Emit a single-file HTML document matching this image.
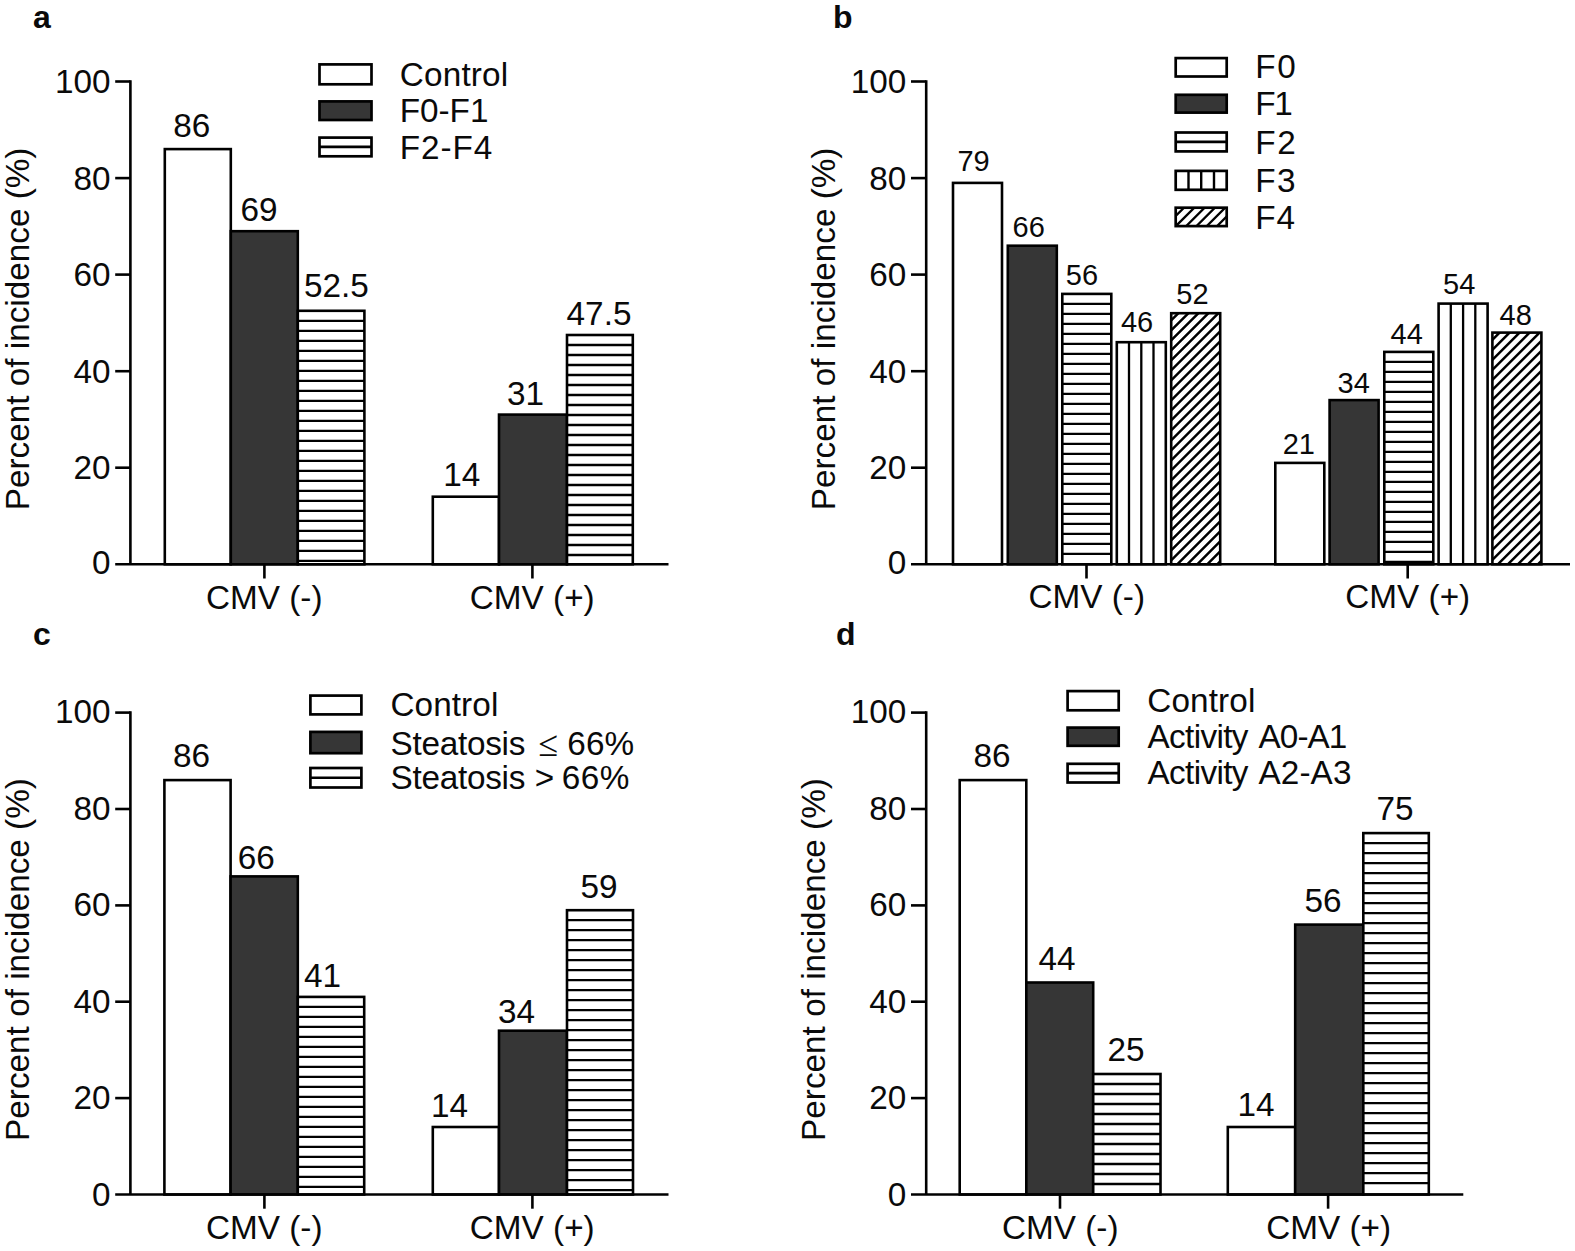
<!DOCTYPE html>
<html><head><meta charset="utf-8"><title>Figure</title>
<style>html,body{margin:0;padding:0;background:#fff}svg{display:block}text{font-family:"Liberation Sans", sans-serif;fill:#0a0a0a}</style>
</head><body>
<svg width="1575" height="1251" viewBox="0 0 1575 1251">
<rect width="1575" height="1251" fill="#fff"/>
<text x="33.0" y="28.2" font-size="32" font-weight="bold">a</text>
<text transform="translate(28.9 328.9) rotate(-90)" font-size="33.3" text-anchor="middle">Percent of incidence (%)</text>
<rect x="164.8" y="149.1" width="66.0" height="415.2" fill="#fff"/><rect x="164.8" y="149.1" width="66.0" height="415.2" fill="none" stroke="#000" stroke-width="2.6"/>
<text x="173.3" y="136.8" font-size="33.3">86</text>
<rect x="230.8" y="231.2" width="67.0" height="333.1" fill="#363636"/><rect x="230.8" y="231.2" width="67.0" height="333.1" fill="none" stroke="#000" stroke-width="2.6"/>
<text x="240.4" y="221.4" font-size="33.3">69</text>
<rect x="297.8" y="310.8" width="66.6" height="253.5" fill="#fff"/><path d="M297.8 320.8H364.4M297.8 330.8H364.4M297.8 340.8H364.4M297.8 350.8H364.4M297.8 360.8H364.4M297.8 370.8H364.4M297.8 380.8H364.4M297.8 390.8H364.4M297.8 400.8H364.4M297.8 410.8H364.4M297.8 420.8H364.4M297.8 430.8H364.4M297.8 440.8H364.4M297.8 450.8H364.4M297.8 460.8H364.4M297.8 470.8H364.4M297.8 480.8H364.4M297.8 490.8H364.4M297.8 500.8H364.4M297.8 510.8H364.4M297.8 520.8H364.4M297.8 530.8H364.4M297.8 540.8H364.4M297.8 550.8H364.4M297.8 560.8H364.4" stroke="#000" stroke-width="2.3" fill="none"/><rect x="297.8" y="310.8" width="66.6" height="253.5" fill="none" stroke="#000" stroke-width="2.6"/>
<text x="304.0" y="297.4" font-size="33.3">52.5</text>
<path d="M264.4 564.3V578.5" stroke="#000" stroke-width="2.6"/>
<text x="206.0" y="609.0" font-size="33.3">CMV (-)</text>
<rect x="432.8" y="496.7" width="66.2" height="67.6" fill="#fff"/><rect x="432.8" y="496.7" width="66.2" height="67.6" fill="none" stroke="#000" stroke-width="2.6"/>
<text x="443.3" y="486.0" font-size="33.3">14</text>
<rect x="499.0" y="414.6" width="68.0" height="149.7" fill="#363636"/><rect x="499.0" y="414.6" width="68.0" height="149.7" fill="none" stroke="#000" stroke-width="2.6"/>
<text x="506.9" y="404.5" font-size="33.3">31</text>
<rect x="567.0" y="335.0" width="65.8" height="229.3" fill="#fff"/><path d="M567.0 345.0H632.8M567.0 355.0H632.8M567.0 365.0H632.8M567.0 375.0H632.8M567.0 385.0H632.8M567.0 395.0H632.8M567.0 405.0H632.8M567.0 415.0H632.8M567.0 425.0H632.8M567.0 435.0H632.8M567.0 445.0H632.8M567.0 455.0H632.8M567.0 465.0H632.8M567.0 475.0H632.8M567.0 485.0H632.8M567.0 495.0H632.8M567.0 505.0H632.8M567.0 515.0H632.8M567.0 525.0H632.8M567.0 535.0H632.8M567.0 545.0H632.8M567.0 555.0H632.8" stroke="#000" stroke-width="2.3" fill="none"/><rect x="567.0" y="335.0" width="65.8" height="229.3" fill="none" stroke="#000" stroke-width="2.6"/>
<text x="566.6" y="325.1" font-size="33.3">47.5</text>
<path d="M532.4 564.3V578.5" stroke="#000" stroke-width="2.6"/>
<text x="469.8" y="609.0" font-size="33.3">CMV (+)</text>
<path d="M130.4 80.2V564.3M115.2 564.3H668.5" stroke="#000" stroke-width="2.6" fill="none"/>
<text x="91.9" y="574.2" font-size="33.3">0</text>
<path d="M115.2 467.7H130.4" stroke="#000" stroke-width="2.6"/>
<text x="73.4" y="479.2" font-size="33.3">20</text>
<path d="M115.2 371.2H130.4" stroke="#000" stroke-width="2.6"/>
<text x="73.4" y="382.7" font-size="33.3">40</text>
<path d="M115.2 274.6H130.4" stroke="#000" stroke-width="2.6"/>
<text x="73.4" y="286.1" font-size="33.3">60</text>
<path d="M115.2 178.1H130.4" stroke="#000" stroke-width="2.6"/>
<text x="73.4" y="189.6" font-size="33.3">80</text>
<path d="M115.2 81.5H130.4" stroke="#000" stroke-width="2.6"/>
<text x="54.9" y="93.0" font-size="33.3">100</text>
<rect x="319.5" y="64.4" width="52.0" height="19.9" fill="#fff"/><rect x="319.5" y="64.4" width="52.0" height="19.9" fill="none" stroke="#000" stroke-width="2.7"/>
<text x="399.8" y="86.0" font-size="33.3" letter-spacing="0.17">Control</text>
<rect x="319.5" y="101.4" width="52.0" height="18.6" fill="#363636"/><rect x="319.5" y="101.4" width="52.0" height="18.6" fill="none" stroke="#000" stroke-width="2.7"/>
<text x="399.8" y="122.0" font-size="33.3" letter-spacing="-0.05">F0-F1</text>
<rect x="319.5" y="137.6" width="52.0" height="18.7" fill="#fff"/><path d="M319.5 146.9H371.5" stroke="#000" stroke-width="2.6"/><rect x="319.5" y="137.6" width="52.0" height="18.7" fill="none" stroke="#000" stroke-width="2.7"/>
<text x="399.8" y="159.0" font-size="33.3" letter-spacing="0.93">F2-F4</text>
<text x="833.0" y="28.0" font-size="32" font-weight="bold">b</text>
<text transform="translate(834.7 328.9) rotate(-90)" font-size="33.3" text-anchor="middle">Percent of incidence (%)</text>
<rect x="953.0" y="182.9" width="49.0" height="381.4" fill="#fff"/><rect x="953.0" y="182.9" width="49.0" height="381.4" fill="none" stroke="#000" stroke-width="2.6"/>
<text x="957.4" y="170.6" font-size="29.0">79</text>
<rect x="1007.8" y="245.7" width="49.0" height="318.6" fill="#363636"/><rect x="1007.8" y="245.7" width="49.0" height="318.6" fill="none" stroke="#000" stroke-width="2.6"/>
<text x="1012.5" y="237.3" font-size="29.0">66</text>
<rect x="1062.3" y="293.9" width="49.0" height="270.4" fill="#fff"/><path d="M1062.3 303.9H1111.3M1062.3 313.9H1111.3M1062.3 323.9H1111.3M1062.3 333.9H1111.3M1062.3 343.9H1111.3M1062.3 353.9H1111.3M1062.3 363.9H1111.3M1062.3 373.9H1111.3M1062.3 383.9H1111.3M1062.3 393.9H1111.3M1062.3 403.9H1111.3M1062.3 413.9H1111.3M1062.3 423.9H1111.3M1062.3 433.9H1111.3M1062.3 443.9H1111.3M1062.3 453.9H1111.3M1062.3 463.9H1111.3M1062.3 473.9H1111.3M1062.3 483.9H1111.3M1062.3 493.9H1111.3M1062.3 503.9H1111.3M1062.3 513.9H1111.3M1062.3 523.9H1111.3M1062.3 533.9H1111.3M1062.3 543.9H1111.3M1062.3 553.9H1111.3" stroke="#000" stroke-width="2.3" fill="none"/><rect x="1062.3" y="293.9" width="49.0" height="270.4" fill="none" stroke="#000" stroke-width="2.6"/>
<text x="1065.8" y="285.3" font-size="29.0">56</text>
<rect x="1116.8" y="342.2" width="49.0" height="222.1" fill="#fff"/><path d="M1129.0 342.2V564.3M1141.3 342.2V564.3M1153.5 342.2V564.3" stroke="#000" stroke-width="2.3" fill="none"/><rect x="1116.8" y="342.2" width="49.0" height="222.1" fill="none" stroke="#000" stroke-width="2.6"/>
<text x="1120.9" y="331.7" font-size="29.0">46</text>
<rect x="1171.2" y="313.2" width="49.0" height="251.1" fill="#fff"/><clipPath id="c1"><rect x="1171.2" y="313.2" width="49.0" height="251.1"/></clipPath><path clip-path="url(#c1)" d="M1169.2 322.4L1222.2 269.4M1169.2 332.4L1222.2 279.4M1169.2 342.4L1222.2 289.4M1169.2 352.4L1222.2 299.4M1169.2 362.4L1222.2 309.4M1169.2 372.4L1222.2 319.4M1169.2 382.4L1222.2 329.4M1169.2 392.4L1222.2 339.4M1169.2 402.4L1222.2 349.4M1169.2 412.4L1222.2 359.4M1169.2 422.4L1222.2 369.4M1169.2 432.4L1222.2 379.4M1169.2 442.4L1222.2 389.4M1169.2 452.4L1222.2 399.4M1169.2 462.4L1222.2 409.4M1169.2 472.4L1222.2 419.4M1169.2 482.4L1222.2 429.4M1169.2 492.4L1222.2 439.4M1169.2 502.4L1222.2 449.4M1169.2 512.4L1222.2 459.4M1169.2 522.4L1222.2 469.4M1169.2 532.4L1222.2 479.4M1169.2 542.4L1222.2 489.4M1169.2 552.4L1222.2 499.4M1169.2 562.4L1222.2 509.4M1169.2 572.4L1222.2 519.4M1169.2 582.4L1222.2 529.4M1169.2 592.4L1222.2 539.4M1169.2 602.4L1222.2 549.4M1169.2 612.4L1222.2 559.4M1169.2 622.4L1222.2 569.4" stroke="#000" stroke-width="2.5" fill="none"/><rect x="1171.2" y="313.2" width="49.0" height="251.1" fill="none" stroke="#000" stroke-width="2.6"/>
<text x="1176.3" y="303.5" font-size="29.0">52</text>
<path d="M1086.5 564.3V578.5" stroke="#000" stroke-width="2.6"/>
<text x="1028.5" y="608.3" font-size="33.3">CMV (-)</text>
<rect x="1275.3" y="462.9" width="49.0" height="101.4" fill="#fff"/><rect x="1275.3" y="462.9" width="49.0" height="101.4" fill="none" stroke="#000" stroke-width="2.6"/>
<text x="1282.7" y="453.8" font-size="29.0">21</text>
<rect x="1329.6" y="400.1" width="49.0" height="164.2" fill="#363636"/><rect x="1329.6" y="400.1" width="49.0" height="164.2" fill="none" stroke="#000" stroke-width="2.6"/>
<text x="1337.6" y="392.8" font-size="29.0">34</text>
<rect x="1384.3" y="351.9" width="49.0" height="212.4" fill="#fff"/><path d="M1384.3 361.9H1433.3M1384.3 371.9H1433.3M1384.3 381.9H1433.3M1384.3 391.9H1433.3M1384.3 401.9H1433.3M1384.3 411.9H1433.3M1384.3 421.9H1433.3M1384.3 431.9H1433.3M1384.3 441.9H1433.3M1384.3 451.9H1433.3M1384.3 461.9H1433.3M1384.3 471.9H1433.3M1384.3 481.9H1433.3M1384.3 491.9H1433.3M1384.3 501.9H1433.3M1384.3 511.9H1433.3M1384.3 521.9H1433.3M1384.3 531.9H1433.3M1384.3 541.9H1433.3M1384.3 551.9H1433.3M1384.3 561.9H1433.3" stroke="#000" stroke-width="2.3" fill="none"/><rect x="1384.3" y="351.9" width="49.0" height="212.4" fill="none" stroke="#000" stroke-width="2.6"/>
<text x="1390.6" y="343.9" font-size="29.0">44</text>
<rect x="1438.6" y="303.6" width="49.0" height="260.7" fill="#fff"/><path d="M1450.8 303.6V564.3M1463.1 303.6V564.3M1475.3 303.6V564.3" stroke="#000" stroke-width="2.3" fill="none"/><rect x="1438.6" y="303.6" width="49.0" height="260.7" fill="none" stroke="#000" stroke-width="2.6"/>
<text x="1443.1" y="293.6" font-size="29.0">54</text>
<rect x="1492.4" y="332.6" width="49.0" height="231.7" fill="#fff"/><clipPath id="c2"><rect x="1492.4" y="332.6" width="49.0" height="231.7"/></clipPath><path clip-path="url(#c2)" d="M1490.4 341.8L1543.4 288.8M1490.4 351.8L1543.4 298.8M1490.4 361.8L1543.4 308.8M1490.4 371.8L1543.4 318.8M1490.4 381.8L1543.4 328.8M1490.4 391.8L1543.4 338.8M1490.4 401.8L1543.4 348.8M1490.4 411.8L1543.4 358.8M1490.4 421.8L1543.4 368.8M1490.4 431.8L1543.4 378.8M1490.4 441.8L1543.4 388.8M1490.4 451.8L1543.4 398.8M1490.4 461.8L1543.4 408.8M1490.4 471.8L1543.4 418.8M1490.4 481.8L1543.4 428.8M1490.4 491.8L1543.4 438.8M1490.4 501.8L1543.4 448.8M1490.4 511.8L1543.4 458.8M1490.4 521.8L1543.4 468.8M1490.4 531.8L1543.4 478.8M1490.4 541.8L1543.4 488.8M1490.4 551.8L1543.4 498.8M1490.4 561.8L1543.4 508.8M1490.4 571.8L1543.4 518.8M1490.4 581.8L1543.4 528.8M1490.4 591.8L1543.4 538.8M1490.4 601.8L1543.4 548.8M1490.4 611.8L1543.4 558.8M1490.4 621.8L1543.4 568.8" stroke="#000" stroke-width="2.5" fill="none"/><rect x="1492.4" y="332.6" width="49.0" height="231.7" fill="none" stroke="#000" stroke-width="2.6"/>
<text x="1499.5" y="324.7" font-size="29.0">48</text>
<path d="M1407.7 564.3V578.5" stroke="#000" stroke-width="2.6"/>
<text x="1345.3" y="608.3" font-size="33.3">CMV (+)</text>
<path d="M926.2 80.2V564.3M911.0 564.3H1570.0" stroke="#000" stroke-width="2.6" fill="none"/>
<text x="887.7" y="574.2" font-size="33.3">0</text>
<path d="M911.0 467.7H926.2" stroke="#000" stroke-width="2.6"/>
<text x="869.2" y="479.2" font-size="33.3">20</text>
<path d="M911.0 371.2H926.2" stroke="#000" stroke-width="2.6"/>
<text x="869.2" y="382.7" font-size="33.3">40</text>
<path d="M911.0 274.6H926.2" stroke="#000" stroke-width="2.6"/>
<text x="869.2" y="286.1" font-size="33.3">60</text>
<path d="M911.0 178.1H926.2" stroke="#000" stroke-width="2.6"/>
<text x="869.2" y="189.6" font-size="33.3">80</text>
<path d="M911.0 81.5H926.2" stroke="#000" stroke-width="2.6"/>
<text x="850.7" y="93.0" font-size="33.3">100</text>
<rect x="1175.7" y="58.1" width="51.0" height="18.4" fill="#fff"/><rect x="1175.7" y="58.1" width="51.0" height="18.4" fill="none" stroke="#000" stroke-width="2.7"/>
<text x="1255.3" y="78.4" font-size="33.3" letter-spacing="1.50">F0</text>
<rect x="1175.7" y="94.8" width="51.0" height="17.8" fill="#363636"/><rect x="1175.7" y="94.8" width="51.0" height="17.8" fill="none" stroke="#000" stroke-width="2.7"/>
<text x="1255.3" y="114.7" font-size="33.3" letter-spacing="-1.37">F1</text>
<rect x="1175.7" y="132.5" width="51.0" height="18.9" fill="#fff"/><path d="M1175.7 141.9H1226.7" stroke="#000" stroke-width="2.6"/><rect x="1175.7" y="132.5" width="51.0" height="18.9" fill="none" stroke="#000" stroke-width="2.7"/>
<text x="1255.3" y="153.8" font-size="33.3" letter-spacing="1.53">F2</text>
<rect x="1175.7" y="170.9" width="51.0" height="18.9" fill="#fff"/><path d="M1188.5 170.9V189.8M1201.2 170.9V189.8M1214.0 170.9V189.8" stroke="#000" stroke-width="2.4" fill="none"/><rect x="1175.7" y="170.9" width="51.0" height="18.9" fill="none" stroke="#000" stroke-width="2.7"/>
<text x="1255.3" y="191.6" font-size="33.3" letter-spacing="1.37">F3</text>
<rect x="1175.7" y="207.7" width="51.0" height="18.4" fill="#fff"/><clipPath id="c3"><rect x="1175.7" y="207.7" width="51.0" height="18.4"/></clipPath><path clip-path="url(#c3)" d="M1173.7 218.0L1228.7 163.0M1173.7 228.3L1228.7 173.3M1173.7 238.6L1228.7 183.6M1173.7 248.9L1228.7 193.9M1173.7 259.2L1228.7 204.2M1173.7 269.5L1228.7 214.5M1173.7 279.8L1228.7 224.8" stroke="#000" stroke-width="2.3000000000000003" fill="none"/><rect x="1175.7" y="207.7" width="51.0" height="18.4" fill="none" stroke="#000" stroke-width="2.7"/>
<text x="1255.3" y="228.6" font-size="33.3" letter-spacing="0.87">F4</text>
<text x="33.0" y="645.3" font-size="32" font-weight="bold">c</text>
<text transform="translate(28.9 959.5) rotate(-90)" font-size="33.3" text-anchor="middle">Percent of incidence (%)</text>
<rect x="164.4" y="780.1" width="66.2" height="414.4" fill="#fff"/><rect x="164.4" y="780.1" width="66.2" height="414.4" fill="none" stroke="#000" stroke-width="2.6"/>
<text x="173.1" y="766.8" font-size="33.3">86</text>
<rect x="230.6" y="876.4" width="67.2" height="318.1" fill="#363636"/><rect x="230.6" y="876.4" width="67.2" height="318.1" fill="none" stroke="#000" stroke-width="2.6"/>
<text x="237.7" y="868.5" font-size="33.3">66</text>
<rect x="297.8" y="996.9" width="66.4" height="197.6" fill="#fff"/><path d="M297.8 1006.9H364.2M297.8 1016.9H364.2M297.8 1026.9H364.2M297.8 1036.9H364.2M297.8 1046.9H364.2M297.8 1056.9H364.2M297.8 1066.9H364.2M297.8 1076.9H364.2M297.8 1086.9H364.2M297.8 1096.9H364.2M297.8 1106.9H364.2M297.8 1116.9H364.2M297.8 1126.9H364.2M297.8 1136.9H364.2M297.8 1146.9H364.2M297.8 1156.9H364.2M297.8 1166.9H364.2M297.8 1176.9H364.2M297.8 1186.9H364.2" stroke="#000" stroke-width="2.3" fill="none"/><rect x="297.8" y="996.9" width="66.4" height="197.6" fill="none" stroke="#000" stroke-width="2.6"/>
<text x="304.1" y="986.6" font-size="33.3">41</text>
<path d="M264.4 1194.5V1208.7" stroke="#000" stroke-width="2.6"/>
<text x="206.0" y="1239.3" font-size="33.3">CMV (-)</text>
<rect x="432.8" y="1127.0" width="66.2" height="67.5" fill="#fff"/><rect x="432.8" y="1127.0" width="66.2" height="67.5" fill="none" stroke="#000" stroke-width="2.6"/>
<text x="430.9" y="1116.7" font-size="33.3">14</text>
<rect x="499.0" y="1030.7" width="68.0" height="163.8" fill="#363636"/><rect x="499.0" y="1030.7" width="68.0" height="163.8" fill="none" stroke="#000" stroke-width="2.6"/>
<text x="497.9" y="1023.0" font-size="33.3">34</text>
<rect x="567.0" y="910.2" width="66.0" height="284.3" fill="#fff"/><path d="M567.0 920.2H633.0M567.0 930.2H633.0M567.0 940.2H633.0M567.0 950.2H633.0M567.0 960.2H633.0M567.0 970.2H633.0M567.0 980.2H633.0M567.0 990.2H633.0M567.0 1000.2H633.0M567.0 1010.2H633.0M567.0 1020.2H633.0M567.0 1030.2H633.0M567.0 1040.2H633.0M567.0 1050.2H633.0M567.0 1060.2H633.0M567.0 1070.2H633.0M567.0 1080.2H633.0M567.0 1090.2H633.0M567.0 1100.2H633.0M567.0 1110.2H633.0M567.0 1120.2H633.0M567.0 1130.2H633.0M567.0 1140.2H633.0M567.0 1150.2H633.0M567.0 1160.2H633.0M567.0 1170.2H633.0M567.0 1180.2H633.0M567.0 1190.2H633.0" stroke="#000" stroke-width="2.3" fill="none"/><rect x="567.0" y="910.2" width="66.0" height="284.3" fill="none" stroke="#000" stroke-width="2.6"/>
<text x="580.4" y="898.0" font-size="33.3">59</text>
<path d="M532.4 1194.5V1208.7" stroke="#000" stroke-width="2.6"/>
<text x="469.8" y="1239.3" font-size="33.3">CMV (+)</text>
<path d="M130.4 711.3V1194.5M115.2 1194.5H668.5" stroke="#000" stroke-width="2.6" fill="none"/>
<text x="91.9" y="1205.5" font-size="33.3">0</text>
<path d="M115.2 1098.1H130.4" stroke="#000" stroke-width="2.6"/>
<text x="73.4" y="1108.9" font-size="33.3">20</text>
<path d="M115.2 1001.7H130.4" stroke="#000" stroke-width="2.6"/>
<text x="73.4" y="1012.5" font-size="33.3">40</text>
<path d="M115.2 905.4H130.4" stroke="#000" stroke-width="2.6"/>
<text x="73.4" y="916.2" font-size="33.3">60</text>
<path d="M115.2 809.0H130.4" stroke="#000" stroke-width="2.6"/>
<text x="73.4" y="819.8" font-size="33.3">80</text>
<path d="M115.2 712.6H130.4" stroke="#000" stroke-width="2.6"/>
<text x="54.9" y="723.4" font-size="33.3">100</text>
<rect x="310.4" y="695.6" width="51.0" height="18.8" fill="#fff"/><rect x="310.4" y="695.6" width="51.0" height="18.8" fill="none" stroke="#000" stroke-width="2.7"/>
<text x="390.4" y="716.3" font-size="33.3" letter-spacing="0.10">Control</text>
<rect x="310.4" y="731.9" width="51.0" height="21.3" fill="#363636"/><rect x="310.4" y="731.9" width="51.0" height="21.3" fill="none" stroke="#000" stroke-width="2.7"/>
<text font-size="33.3"><tspan x="390.6" y="754.8" letter-spacing="-0.28">Steatosis </tspan><tspan x="538.5" y="755.7" font-family="Liberation Serif, serif" font-size="36">≤ </tspan><tspan x="567.3" y="754.8" letter-spacing="0.07">66%</tspan></text>
<rect x="310.4" y="768.0" width="51.0" height="19.5" fill="#fff"/><path d="M310.4 777.8H361.4" stroke="#000" stroke-width="2.6"/><rect x="310.4" y="768.0" width="51.0" height="19.5" fill="none" stroke="#000" stroke-width="2.7"/>
<text font-size="33.3"><tspan x="390.6" y="788.5" letter-spacing="-0.28">Steatosis </tspan><tspan x="534.8" y="788.5" letter-spacing="0.00">&gt; </tspan><tspan x="561.7" y="788.5" letter-spacing="0.57">66%</tspan></text>
<text x="836.0" y="645.3" font-size="32" font-weight="bold">d</text>
<text transform="translate(824.7 959.5) rotate(-90)" font-size="33.3" text-anchor="middle">Percent of incidence (%)</text>
<rect x="959.7" y="780.1" width="66.6" height="414.4" fill="#fff"/><rect x="959.7" y="780.1" width="66.6" height="414.4" fill="none" stroke="#000" stroke-width="2.6"/>
<text x="973.6" y="766.5" font-size="33.3">86</text>
<rect x="1026.3" y="982.5" width="66.9" height="212.0" fill="#363636"/><rect x="1026.3" y="982.5" width="66.9" height="212.0" fill="none" stroke="#000" stroke-width="2.6"/>
<text x="1038.4" y="969.7" font-size="33.3">44</text>
<rect x="1093.2" y="1074.0" width="67.3" height="120.5" fill="#fff"/><path d="M1093.2 1084.0H1160.5M1093.2 1094.0H1160.5M1093.2 1104.0H1160.5M1093.2 1114.0H1160.5M1093.2 1124.0H1160.5M1093.2 1134.0H1160.5M1093.2 1144.0H1160.5M1093.2 1154.0H1160.5M1093.2 1164.0H1160.5M1093.2 1174.0H1160.5M1093.2 1184.0H1160.5" stroke="#000" stroke-width="2.3" fill="none"/><rect x="1093.2" y="1074.0" width="67.3" height="120.5" fill="none" stroke="#000" stroke-width="2.6"/>
<text x="1107.4" y="1061.1" font-size="33.3">25</text>
<path d="M1060.0 1194.5V1208.7" stroke="#000" stroke-width="2.6"/>
<text x="1002.0" y="1239.3" font-size="33.3">CMV (-)</text>
<rect x="1227.8" y="1127.0" width="67.4" height="67.5" fill="#fff"/><rect x="1227.8" y="1127.0" width="67.4" height="67.5" fill="none" stroke="#000" stroke-width="2.6"/>
<text x="1237.4" y="1116.0" font-size="33.3">14</text>
<rect x="1295.2" y="924.6" width="68.1" height="269.9" fill="#363636"/><rect x="1295.2" y="924.6" width="68.1" height="269.9" fill="none" stroke="#000" stroke-width="2.6"/>
<text x="1304.6" y="911.5" font-size="33.3">56</text>
<rect x="1363.3" y="833.1" width="65.5" height="361.4" fill="#fff"/><path d="M1363.3 843.1H1428.8M1363.3 853.1H1428.8M1363.3 863.1H1428.8M1363.3 873.1H1428.8M1363.3 883.1H1428.8M1363.3 893.1H1428.8M1363.3 903.1H1428.8M1363.3 913.1H1428.8M1363.3 923.1H1428.8M1363.3 933.1H1428.8M1363.3 943.1H1428.8M1363.3 953.1H1428.8M1363.3 963.1H1428.8M1363.3 973.1H1428.8M1363.3 983.1H1428.8M1363.3 993.1H1428.8M1363.3 1003.1H1428.8M1363.3 1013.1H1428.8M1363.3 1023.1H1428.8M1363.3 1033.1H1428.8M1363.3 1043.1H1428.8M1363.3 1053.1H1428.8M1363.3 1063.1H1428.8M1363.3 1073.1H1428.8M1363.3 1083.1H1428.8M1363.3 1093.1H1428.8M1363.3 1103.1H1428.8M1363.3 1113.1H1428.8M1363.3 1123.1H1428.8M1363.3 1133.1H1428.8M1363.3 1143.1H1428.8M1363.3 1153.1H1428.8M1363.3 1163.1H1428.8M1363.3 1173.1H1428.8M1363.3 1183.1H1428.8" stroke="#000" stroke-width="2.3" fill="none"/><rect x="1363.3" y="833.1" width="65.5" height="361.4" fill="none" stroke="#000" stroke-width="2.6"/>
<text x="1376.6" y="820.2" font-size="33.3">75</text>
<path d="M1328.1 1194.5V1208.7" stroke="#000" stroke-width="2.6"/>
<text x="1266.2" y="1239.3" font-size="33.3">CMV (+)</text>
<path d="M926.2 711.3V1194.5M911.0 1194.5H1463.3" stroke="#000" stroke-width="2.6" fill="none"/>
<text x="887.7" y="1205.5" font-size="33.3">0</text>
<path d="M911.0 1098.1H926.2" stroke="#000" stroke-width="2.6"/>
<text x="869.2" y="1108.9" font-size="33.3">20</text>
<path d="M911.0 1001.7H926.2" stroke="#000" stroke-width="2.6"/>
<text x="869.2" y="1012.5" font-size="33.3">40</text>
<path d="M911.0 905.4H926.2" stroke="#000" stroke-width="2.6"/>
<text x="869.2" y="916.2" font-size="33.3">60</text>
<path d="M911.0 809.0H926.2" stroke="#000" stroke-width="2.6"/>
<text x="869.2" y="819.8" font-size="33.3">80</text>
<path d="M911.0 712.6H926.2" stroke="#000" stroke-width="2.6"/>
<text x="850.7" y="723.4" font-size="33.3">100</text>
<rect x="1067.6" y="691.1" width="51.1" height="19.2" fill="#fff"/><rect x="1067.6" y="691.1" width="51.1" height="19.2" fill="none" stroke="#000" stroke-width="2.7"/>
<text x="1147.2" y="711.5" font-size="33.3" letter-spacing="0.15">Control</text>
<rect x="1067.6" y="727.6" width="51.1" height="18.2" fill="#363636"/><rect x="1067.6" y="727.6" width="51.1" height="18.2" fill="none" stroke="#000" stroke-width="2.7"/>
<text font-size="33.3"><tspan x="1147.5" y="747.7" letter-spacing="-0.64">Activity </tspan><tspan x="1258.6" y="747.7" letter-spacing="-0.94">A0-A1</tspan></text>
<rect x="1067.6" y="763.8" width="51.1" height="18.7" fill="#fff"/><path d="M1067.6 773.1H1118.7" stroke="#000" stroke-width="2.6"/><rect x="1067.6" y="763.8" width="51.1" height="18.7" fill="none" stroke="#000" stroke-width="2.7"/>
<text font-size="33.3"><tspan x="1147.5" y="783.8" letter-spacing="-0.64">Activity </tspan><tspan x="1258.6" y="783.8" letter-spacing="0.07">A2-A3</tspan></text>
</svg>
</body></html>
